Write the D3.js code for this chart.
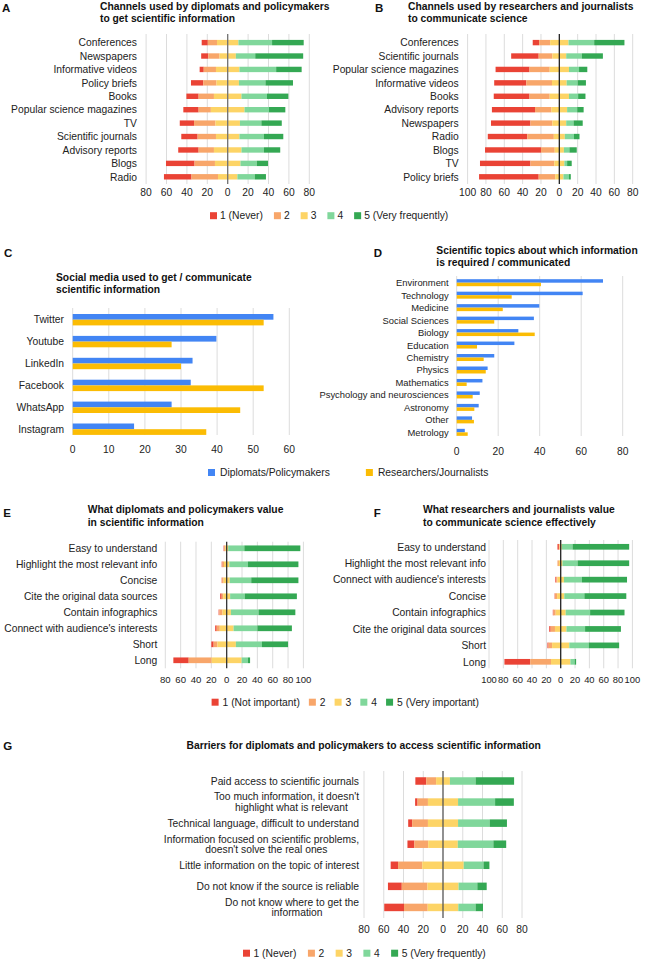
<!DOCTYPE html>
<html><head><meta charset="utf-8">
<script src="https://cdn.jsdelivr.net/npm/d3@7"></script>
<style>
body{margin:0;background:#fff}
text{font-family:"Liberation Sans",Arial,Helvetica,sans-serif;fill:#222}
</style>
</head><body>
<svg id="chart" width="647" height="962"></svg>
<script>
// ---------------- DATA ----------------
const likertColors = ["#ea4335", "#f8a66a", "#fdd466", "#80d79b", "#34a853"];
const frequencyLevels = ["1 (Never)", "2", "3", "4", "5 (Very frequently)"];
const importanceLevels = ["1 (Not important)", "2", "3", "4", "5 (Very important)"];

const channelsPolicyCategories = ["Conferences", "Newspapers", "Informative videos", "Policy briefs", "Books",
  "Popular science magazines", "TV", "Scientific journals", "Advisory reports", "Blogs", "Radio"];
const channelsPolicyValues = [
  [6, 9, 21, 33, 31], [7, 11, 16, 19, 47], [4, 12, 23, 36, 25], [12, 13, 22, 26, 27], [12, 15, 27, 25, 21],
  [15, 12, 33, 24, 16], [14, 21, 24, 21, 20], [16, 18, 23, 24, 19], [20, 15, 27, 22, 16], [28, 20, 25, 16, 11],
  [27, 26, 19, 17, 11]];

const channelsResearchCategories = ["Conferences", "Scientific journals", "Popular science magazines", "Informative videos",
  "Books", "Advisory reports", "Newspapers", "Radio", "Blogs", "TV", "Policy briefs"];
const channelsResearchValues = [
  [7, 12, 20, 28, 33], [30, 15, 15, 17, 23], [37, 22, 21, 11, 9], [35, 28, 16, 12, 9], [39, 22, 21, 10, 8],
  [47, 18, 17, 11, 7], [43, 24, 15, 8, 10], [43, 29, 12, 10, 6], [61, 15, 10, 6, 8], [55, 26, 11, 3, 5],
  [65, 18, 9, 6, 2]];

const groupNames = ["Diplomats/Policymakers", "Researchers/Journalists"];
const groupColors = ["#4285f4", "#fbbc04"];
const socialCategories = ["Twitter", "Youtube", "LinkedIn", "Facebook", "WhatsApp", "Instagram"];
const socialDiplomats = [55.6, 39.8, 33.2, 32.7, 27.4, 17.0];
const socialResearchers = [52.9, 27.4, 30.0, 52.9, 46.4, 37.0];

const topicCategories = ["Environment", "Technology", "Medicine", "Social Sciences", "Biology", "Education", "Chemistry",
  "Physics", "Mathematics", "Psychology and neurosciences", "Astronomy", "Other", "Metrology"];
const topicDiplomats = [70.5, 60.7, 39.8, 37.2, 29.7, 27.8, 18.1, 14.9, 12.4, 11.1, 10.6, 7.4, 3.9];
const topicResearchers = [40.6, 26.5, 22.2, 18.1, 37.6, 9.8, 13.0, 14.0, 4.8, 7.7, 8.5, 8.3, 5.3];

const valuePolicyCategories = ["Easy to understand", "Highlight the most relevant info", "Concise",
  "Cite the original data sources", "Contain infographics", "Connect with audience's interests", "Short", "Long"];
const valuePolicyValues = [
  [1, 1, 4, 21, 73], [1, 2, 7, 24, 66], [0.5, 2, 8, 28, 61.5], [2, 2, 9, 19, 68],
  [1, 4, 11, 36, 48], [2, 4, 18, 31, 45], [3, 5, 24, 34, 34], [20, 30, 39, 8, 3]];

const valueResearchCategories = ["Easy to understand", "Highlight the most relevant info", "Connect with audience's interests",
  "Concise", "Contain infographics", "Cite the original data sources", "Short", "Long"];
const valueResearchValues = [
  [2, 1, 3, 15, 79], [0, 2, 5, 21, 72], [1.5, 1.5, 9, 25, 63], [0.5, 3, 10, 28, 58.5],
  [1, 3, 14, 34, 48], [2, 6, 16, 26, 50], [1.5, 5, 24, 27, 42.5], [36, 29, 27, 6, 2]];

const barrierCategories = ["Paid access to scientific journals",
  "Too much information, it doesn't\nhighlight what is relevant",
  "Technical language, difficult to understand",
  "Information focused on scientific problems,\ndoesn't solve the real ones",
  "Little information on the topic of interest",
  "Do not know if the source is reliable",
  "Do not know where to get the\ninformation"];
const barrierValues = [
  [11, 10, 14, 26, 39], [2.5, 10.5, 30.5, 37.5, 19], [4, 16, 30.5, 32, 17.5], [7, 14, 30, 36, 13],
  [7.5, 24.5, 42, 20, 6], [14, 26, 31.5, 19, 9.5], [20, 24, 31, 17.5, 7.5]];

const ticksA = [-80, -60, -40, -20, 0, 20, 40, 60, 80];
const ticksB = [-100, -80, -60, -40, -20, 0, 20, 40, 60, 80];
const ticksC = [0, 10, 20, 30, 40, 50, 60];
const ticksD = [0, 20, 40, 60, 80];
const ticksE = [-80, -60, -40, -20, 0, 20, 40, 60, 80, 100];
const ticksF = [-100, -80, -60, -40, -20, 0, 20, 40, 60, 80, 100];
const ticksG = [-80, -60, -40, -20, 0, 20, 40, 60, 80];

// ---------------- DRAW ----------------
const svg = d3.select("#chart");
const FS = 10.3;
const GRID = "#dcdcdc";

function txt(g, x, y, s, opts = {}) {
  return g.append("text").attr("x", x).attr("y", y).text(s)
    .attr("font-size", opts.size || FS)
    .attr("font-weight", opts.bold ? "bold" : null)
    .attr("text-anchor", opts.anchor || "start")
    .style("fill", opts.fill || "#222");
}

function panelHeader(letter, lx, ly, lines, tx, ty, anchor) {
  txt(svg, lx, ly, letter, {size: 11.5, bold: true, fill: "#111"});
  lines.forEach((l, i) => txt(svg, tx, ty + i * 12.2, l, {bold: true, fill: "#111", anchor: anchor || "start"}));
}

function legend(items, colors, x0, y, offset, gap) {
  let x = x0;
  items.forEach((it, i) => {
    svg.append("rect").attr("x", x).attr("y", y - 7).attr("width", 7).attr("height", 7).attr("fill", colors[i]);
    const t = txt(svg, x + offset, y, it);
    x += offset + t.node().getComputedTextLength() + gap;
  });
}

function diverging(cfg) {
  const g = svg.append("g");
  const n = cfg.cats.length;
  const x = d3.scaleLinear().domain([cfg.ticks[0], cfg.ticks[cfg.ticks.length - 1]]).range(cfg.xRange);
  const pad = 1 - cfg.barH / cfg.step;
  const y = d3.scaleBand().domain(cfg.cats)
    .range([cfg.rowFirst - cfg.step / 2, cfg.rowFirst + (n - 0.5) * cfg.step])
    .paddingInner(pad).paddingOuter(pad / 2);
  g.selectAll(".grid").data(cfg.ticks.filter(t => t !== 0)).enter().append("line")
    .attr("x1", d => x(d)).attr("x2", d => x(d)).attr("y1", cfg.gridTop).attr("y2", cfg.gridBottom)
    .attr("stroke", GRID).attr("stroke-width", 1);
  cfg.cats.forEach((c, i) => {
    const v = cfg.vals[i];
    const half = v[2] / 2;
    const segs = [
      [-(v[0] + v[1] + half), -(v[1] + half)],
      [-(v[1] + half), -half],
      [-half, half],
      [half, half + v[3]],
      [half + v[3], half + v[3] + v[4]]
    ];
    segs.forEach((s, k) => {
      if (s[1] - s[0] <= 0) return;
      g.append("rect").attr("x", x(s[0])).attr("width", x(s[1]) - x(s[0]))
        .attr("y", y(c)).attr("height", y.bandwidth()).attr("fill", likertColors[k]);
    });
    const lines = c.split("\n");
    const cy = y(c) + y.bandwidth() / 2;
    if (lines.length === 1) {
      txt(g, cfg.labelX, cy + 3.7, c, {anchor: "end"});
    } else {
      const t1 = txt(g, cfg.labelX, cy - 5.3 + 3.7, lines[0], {anchor: "end"});
      const w = t1.node().getComputedTextLength();
      txt(g, cfg.labelX - w / 2 + 5, cy + 5.3 + 3.7, lines[1], {anchor: "middle"});
    }
  });
  g.append("line").attr("x1", x(0)).attr("x2", x(0)).attr("y1", cfg.gridTop).attr("y2", cfg.gridBottom)
    .attr("stroke", cfg.zeroColor).attr("stroke-width", 1.3);
  cfg.ticks.forEach(t => txt(g, x(t), cfg.tickY, String(Math.abs(t)), {anchor: "middle", size: cfg.tickSize || FS}));
}

function grouped(cfg) {
  const g = svg.append("g");
  const n = cfg.cats.length;
  const x = d3.scaleLinear().domain([cfg.ticks[0], cfg.ticks[cfg.ticks.length - 1]]).range(cfg.xRange);
  const pad = 1 - 2 * cfg.barH / cfg.step;
  const y = d3.scaleBand().domain(cfg.cats)
    .range([cfg.rowFirst - cfg.step / 2, cfg.rowFirst + (n - 0.5) * cfg.step])
    .paddingInner(pad).paddingOuter(pad / 2);
  const y1 = d3.scaleBand().domain(groupNames).range([0, y.bandwidth()]);
  g.selectAll(".grid").data(cfg.ticks).enter().append("line")
    .attr("x1", d => x(d)).attr("x2", d => x(d)).attr("y1", cfg.gridTop).attr("y2", cfg.gridBottom)
    .attr("stroke", GRID).attr("stroke-width", 1);
  cfg.cats.forEach((c, i) => {
    [cfg.a[i], cfg.b[i]].forEach((v, k) => {
      g.append("rect").attr("x", x(0)).attr("width", x(v) - x(0))
        .attr("y", y(c) + y1(groupNames[k])).attr("height", y1.bandwidth()).attr("fill", groupColors[k]);
    });
    txt(g, cfg.labelX, y(c) + y.bandwidth() / 2 + 3.5, c, {anchor: "end", size: cfg.labelSize || FS});
  });
  cfg.ticks.forEach(t => txt(g, x(t), cfg.tickY, String(t), {anchor: "middle"}));
}

panelHeader("A", 2, 11.7, ["Channels used by diplomats and policymakers", "to get scientific information"], 100, 10);
diverging({cats: channelsPolicyCategories, vals: channelsPolicyValues, ticks: ticksA,
  xRange: [146.1, 309.3], rowFirst: 42.6, step: 13.42, barH: 5.4, gridTop: 34, gridBottom: 184,
  labelX: 137, tickY: 196.3, zeroColor: "#707070"});

panelHeader("B", 375, 11.5, ["Channels used by researchers and journalists", "to communicate science"], 408, 10);
diverging({cats: channelsResearchCategories, vals: channelsResearchValues, ticks: ticksB,
  xRange: [467.6, 632.7], rowFirst: 42.6, step: 13.42, barH: 5.4, gridTop: 34, gridBottom: 184,
  labelX: 458.7, tickY: 196.3, zeroColor: "#222"});

legend(frequencyLevels, likertColors, 210, 219.2, 10, 11);

panelHeader("C", 4, 257.3, ["Social media used to get / communicate", "scientific information"], 56, 281);
grouped({cats: socialCategories, a: socialDiplomats, b: socialResearchers, ticks: ticksC,
  xRange: [72.7, 289.3], rowFirst: 319.7, step: 21.9, barH: 5.7, gridTop: 308, gridBottom: 435,
  labelX: 64, tickY: 452.5});

panelHeader("D", 373.7, 257.3, ["Scientific topics about which information", " is required / communicated"], 436.3, 254);
grouped({cats: topicCategories, a: topicDiplomats, b: topicResearchers, ticks: ticksD,
  xRange: [456.7, 622.7], rowFirst: 282.7, step: 12.47, barH: 3.5, gridTop: 276, gridBottom: 436,
  labelX: 448.7, tickY: 455, labelSize: 9.4});

legend(groupNames, groupColors, 208, 476, 12, 36);

panelHeader("E", 3.3, 516.7, ["What diplomats and policymakers value", "in scientific information"], 87.7, 513.3);
diverging({cats: valuePolicyCategories, vals: valuePolicyValues, ticks: ticksE,
  xRange: [165.3, 303.4], rowFirst: 548.3, step: 16, barH: 5.7, gridTop: 541.7, gridBottom: 668.3,
  labelX: 157.3, tickY: 682.7, zeroColor: "#333", tickSize: 9.6});

panelHeader("F", 373.7, 516.7, ["What researchers and journalists value", "to communicate science effectively"], 423, 513.3);
diverging({cats: valueResearchCategories, vals: valueResearchValues, ticks: ticksF,
  xRange: [489, 632.4], rowFirst: 546.8, step: 16.43, barH: 5.7, gridTop: 540, gridBottom: 668.3,
  labelX: 486, tickY: 682.7, zeroColor: "#222", tickSize: 9.4});

legend(importanceLevels, likertColors, 211.6, 705.7, 11, 9);

panelHeader("G", 3.3, 750, ["Barriers for diplomats and policymakers to access scientific information"], 363.7, 748.5, "middle");
diverging({cats: barrierCategories, vals: barrierValues, ticks: ticksG,
  xRange: [364, 522], rowFirst: 781, step: 21.07, barH: 7.5, gridTop: 771, gridBottom: 918,
  labelX: 359, tickY: 932.7, zeroColor: "#555"});

legend(frequencyLevels, likertColors, 243, 956.7, 10.5, 11.5);
</script>
</body></html>
